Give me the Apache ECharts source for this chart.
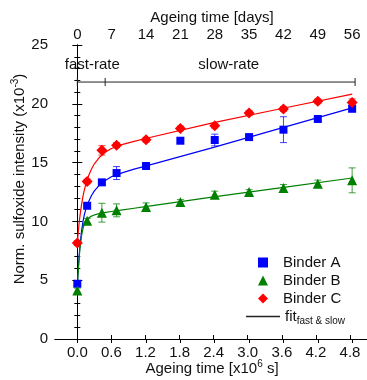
<!DOCTYPE html>
<html><head><meta charset="utf-8">
<script src="https://cdn.jsdelivr.net/npm/echarts@6/dist/echarts.min.js"></script>
<style>html,body{margin:0;padding:0;background:#fff}#c{width:367px;height:380px}</style>
</head><body><div id="c"></div>
<script>
// Ageing time in 10^6 s (0,2,5,8,14,21,28,35,42,49,56 days)
const timeS = [0, 0.173, 0.432, 0.691, 1.210, 1.814, 2.419, 3.024, 3.629, 4.234, 4.838];
const binderA = [4.70, 11.33, 13.32, 14.11, 14.71, 16.86, 16.92, 17.17, 17.80, 18.71, 19.58];
const binderB = [4.13, 10.05, 10.74, 10.94, 11.22, 11.65, 12.27, 12.50, 12.84, 13.21, 13.49];
const binderC = [8.16, 13.40, 16.04, 16.48, 16.95, 17.91, 18.14, 19.22, 19.56, 20.21, 20.12];
const errA = [0.2, 0.2, 0.2, 0.55, 0.2, 0.2, 0.5, 0.2, 1.1, 0.2, 0.25];
const errB = [0.2, 0.2, 0.8, 0.55, 0.35, 0.2, 0.3, 0.2, 0.3, 0.3, 1.06];
const errC = [0.2, 0.2, 0.4, 0.2, 0.2, 0.2, 0.2, 0.2, 0.2, 0.2, 0.3];
// fit curves (fast & slow)
const fitT = [0, 0.0125, 0.025, 0.0375, 0.05, 0.075, 0.1, 0.125, 0.15, 0.2, 0.25, 0.3, 0.4, 0.5, 0.6, 0.8, 1.0, 1.2, 2.4, 3.6, 4.84];
const fitA = [4.70, 5.7, 6.6, 7.4, 8.1, 9.2, 10.0, 10.6, 11.05, 11.7, 12.2, 12.6, 13.15, 13.5, 13.8, 14.15, 14.45, 14.7, 16.3, 17.95, 19.65];
const fitB = [4.13, 5.4, 6.4, 7.2, 7.9, 8.8, 9.4, 9.8, 10.05, 10.3, 10.45, 10.55, 10.68, 10.76, 10.84, 10.98, 11.12, 11.25, 12.08, 12.88, 13.69];
const fitC = [8.16, 8.9, 9.55, 10.1, 10.6, 11.45, 12.15, 12.7, 13.15, 13.9, 14.45, 14.9, 15.5, 15.9, 16.2, 16.55, 16.8, 17.05, 18.4, 19.6, 20.82];
const bottomTicks = [0, 0.6, 1.2, 1.8, 2.4, 3.0, 3.6, 4.2, 4.8];
const topTicks = [0, 7, 14, 21, 28, 35, 42, 49, 56];
const bracketX = [0, 0.49, 4.89];
const bracketY = 21.85;
const annotations = [[-0.22, 23.3, 'fast-rate'], [2.13, 23.3, 'slow-rate']];

const X_MIN = -0.393, X_MAX = 5.135;
const FONT = 'Liberation Sans, Arial, sans-serif';
const txt = '#111';

function pairs(xs, ys) { return xs.map((x, i) => [x, ys[i]]); }
function errSeries(name, ys, errs, color) {
  return {
    type: 'custom', name: name, z: 2, encode: {x: 0, y: 1},
    data: timeS.map((t, i) => [t, ys[i], errs[i]]),
    renderItem: function (params, api) {
      const x = api.value(0), y = api.value(1), e = api.value(2);
      const top = api.coord([x, y + e]), bot = api.coord([x, y - e]);
      const hw = 3.5;
      const style = {stroke: color, lineWidth: 1, opacity: 0.75};
      return {type: 'group', children: [
        {type: 'line', shape: {x1: top[0], y1: top[1], x2: bot[0], y2: bot[1]}, style: style},
        {type: 'line', shape: {x1: top[0] - hw, y1: top[1], x2: top[0] + hw, y2: top[1]}, style: style},
        {type: 'line', shape: {x1: bot[0] - hw, y1: bot[1], x2: bot[0] + hw, y2: bot[1]}, style: style}
      ]};
    }
  };
}
function fitSeries(name, ys, color) {
  return {type: 'line', name: name, data: pairs(fitT, ys), smooth: false,
    symbol: 'none', showSymbol: false, lineStyle: {color: color, width: 1.2}, z: 2, silent: true};
}

const chart = echarts.init(document.getElementById('c'), null, {renderer: 'canvas'});
const axisLine = {show: true, lineStyle: {color: '#000', width: 1}};
chart.setOption({
  animation: false,
  backgroundColor: '#fff',
  textStyle: {fontFamily: FONT, color: txt},
  grid: {left: 55, right: -2, top: 45, bottom: 41, containLabel: false, outerBoundsMode: 'none'},
  xAxis: [{
    type: 'value', position: 'bottom', min: X_MIN, max: X_MAX,
    axisLine: axisLine, splitLine: {show: false},
    axisTick: {show: true, inside: true, length: 4, customValues: bottomTicks, lineStyle: {color: '#000'}},
    axisLabel: {customValues: bottomTicks, margin: 6, fontSize: 15, color: txt, fontFamily: FONT,
      formatter: v => v.toFixed(1)},
    name: '{a|Ageing time [x10}{s|6}{a| s]}', nameLocation: 'middle', nameGap: 20, nameMoveOverlap: false,
    nameTextStyle: {rich: {a: {fontSize: 15, lineHeight: 20, color: txt, fontFamily: FONT},
      s: {fontSize: 10, lineHeight: 10, verticalAlign: 'top', color: txt, fontFamily: FONT}}}
  }, {
    type: 'value', position: 'top', min: X_MIN * 1e6 / 86400, max: X_MAX * 1e6 / 86400,
    axisLine: axisLine, splitLine: {show: false},
    axisTick: {show: true, inside: true, length: 4, customValues: topTicks, lineStyle: {color: '#000'}},
    axisLabel: {customValues: topTicks, margin: 3, fontSize: 15, color: txt, fontFamily: FONT},
    name: 'Ageing time [days]', nameLocation: 'middle', nameGap: 20, nameMoveOverlap: false,
    nameTextStyle: {fontSize: 15, color: txt, fontFamily: FONT}
  }],
  yAxis: [{
    type: 'value', position: 'left', min: 0, max: 25, interval: 5,
    axisLine: axisLine, splitLine: {show: false},
    axisTick: {show: true, inside: true, length: 5, lineStyle: {color: '#000'}},
    minorTick: {show: true, splitNumber: 5, length: 3, lineStyle: {color: '#000'}},
    axisLabel: {margin: 7, fontSize: 15, color: txt, fontFamily: FONT},
    name: '{a|Norm. sulfoxide intensity (x10}{s|-3}{a|)}', nameLocation: 'middle', nameGap: 25, nameMoveOverlap: false,
    nameTextStyle: {padding: [0, 0, 0, 26], rich: {a: {fontSize: 15, lineHeight: 20, color: txt, fontFamily: FONT},
      s: {fontSize: 10, lineHeight: 10, verticalAlign: 'top', color: txt, fontFamily: FONT}}}
  }, {
    type: 'value', position: 'right', min: 0, max: 25, interval: 5,
    axisLine: axisLine, splitLine: {show: false},
    axisTick: {show: true, inside: true, length: 5, lineStyle: {color: '#000'}},
    minorTick: {show: true, splitNumber: 5, length: 3, lineStyle: {color: '#000'}},
    axisLabel: {show: false}
  }],
  legend: [{
    data: [{name: 'Binder A', icon: 'rect'}, {name: 'Binder B', icon: 'triangle'}, {name: 'Binder C', icon: 'diamond'}],
    orient: 'vertical', left: 253, top: 250,
    itemWidth: 10, itemHeight: 10, itemGap: 3, selectedMode: false,
    textStyle: {fontSize: 15, color: txt, fontFamily: FONT, padding: [0, 0, 0, 10]}
  }, {
    data: [{name: 'fit', icon: 'rect'}], orient: 'vertical', left: 241, top: 304,
    itemWidth: 34, itemHeight: 1.3, selectedMode: false,
    formatter: () => '{a|fit}{b|fast & slow}',
    textStyle: {rich: {a: {fontSize: 15, lineHeight: 20, color: txt, fontFamily: FONT},
      b: {fontSize: 10, lineHeight: 10, verticalAlign: 'bottom', color: txt, fontFamily: FONT}}}
  }],
  series: [
    fitSeries('fitA', fitA, '#0000ff'),
    fitSeries('fitB', fitB, '#008000'),
    fitSeries('fitC', fitC, '#ff0000'),
    {type: 'line', name: 'fit', data: [], symbol: 'none', showSymbol: false,
      lineStyle: {color: '#222', width: 1.2}, itemStyle: {color: '#222'}},
    errSeries('errA', binderA, errA, '#0000ff'),
    errSeries('errB', binderB, errB, '#008000'),
    errSeries('errC', binderC, errC, '#ff0000'),
    {type: 'scatter', name: 'Binder A', data: pairs(timeS, binderA), symbol: 'rect', symbolSize: 8,
      itemStyle: {color: '#0000ff', opacity: 1}, z: 4},
    {type: 'scatter', name: 'Binder B', data: pairs(timeS, binderB), symbol: 'triangle', symbolSize: 10,
      itemStyle: {color: '#008000', opacity: 1}, z: 4},
    {type: 'scatter', name: 'Binder C', data: pairs(timeS, binderC), symbol: 'diamond', symbolSize: 11,
      itemStyle: {color: '#ff0000', opacity: 1}, z: 4},
    {type: 'line', name: 'bracket', data: [[bracketX[0], bracketY], [bracketX[2], bracketY]], symbol: 'none',
      lineStyle: {color: '#222', width: 1}, silent: true},
    {type: 'scatter', name: 'bracketCaps', data: bracketX.map(x => [x, bracketY]), symbol: 'rect', symbolSize: [1, 8],
      itemStyle: {color: '#222', opacity: 1}, silent: true},
    {type: 'scatter', name: 'annot', data: annotations, symbolSize: 0, silent: true,
      itemStyle: {opacity: 1},
      label: {show: true, position: 'right', distance: 0, formatter: p => p.value[2],
        fontSize: 15, color: txt, fontFamily: FONT, opacity: 1}}
  ]
});
</script>
</body></html>
